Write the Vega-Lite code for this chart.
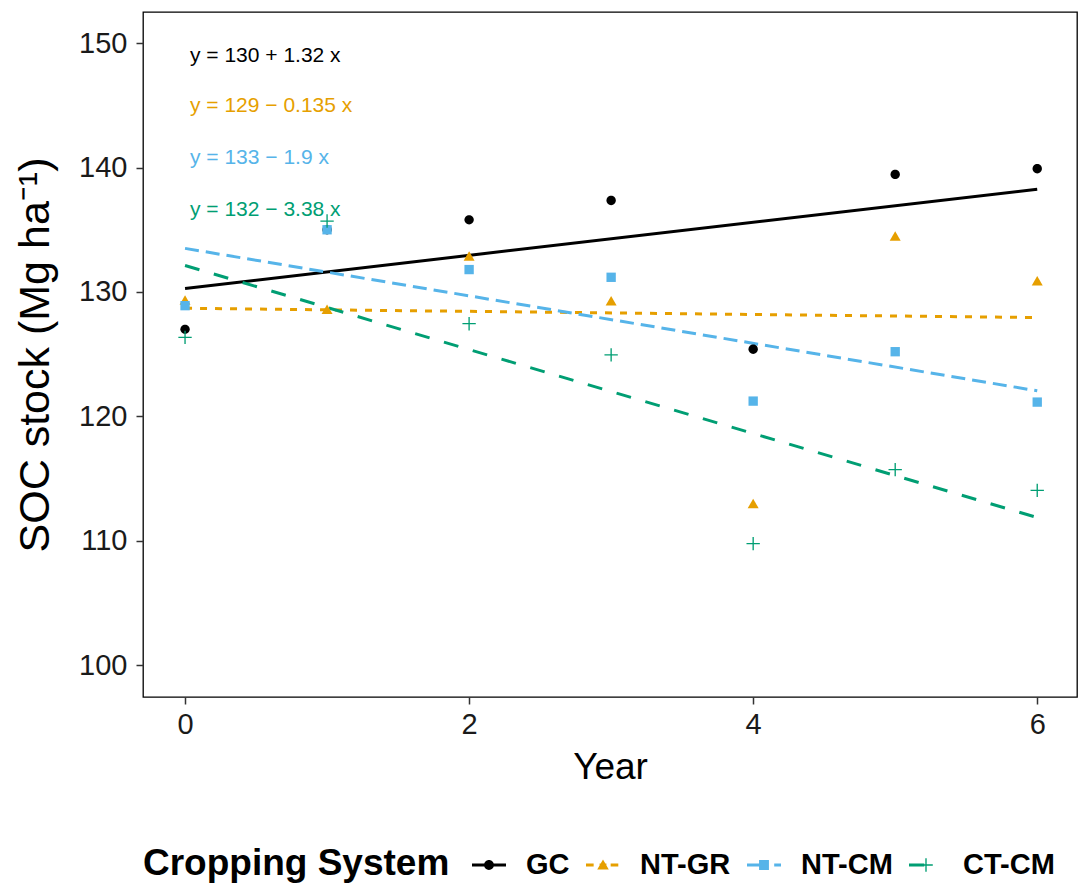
{
  "$schema": "https://vega.github.io/schema/vega-lite/v6.json",
  "width": 934,
  "height": 685,
  "autosize": "none",
  "padding": {"left": 143, "top": 12, "right": 6, "bottom": 188},
  "background": "white",
  "datasets": {
    "soc": [
      {"year": 0, "soc": 127.0, "system": "GC"},
      {"year": 1, "soc": 135.0, "system": "GC"},
      {"year": 2, "soc": 135.8, "system": "GC"},
      {"year": 3, "soc": 137.35, "system": "GC"},
      {"year": 4, "soc": 125.4, "system": "GC"},
      {"year": 5, "soc": 139.45, "system": "GC"},
      {"year": 6, "soc": 139.9, "system": "GC"},
      {"year": 0, "soc": 129.3, "system": "NT-GR"},
      {"year": 1, "soc": 128.57, "system": "NT-GR"},
      {"year": 2, "soc": 132.85, "system": "NT-GR"},
      {"year": 3, "soc": 129.25, "system": "NT-GR"},
      {"year": 4, "soc": 112.95, "system": "NT-GR"},
      {"year": 5, "soc": 134.45, "system": "NT-GR"},
      {"year": 6, "soc": 130.85, "system": "NT-GR"},
      {"year": 0, "soc": 128.9, "system": "NT-CM"},
      {"year": 1, "soc": 135.0, "system": "NT-CM"},
      {"year": 2, "soc": 131.8, "system": "NT-CM"},
      {"year": 3, "soc": 131.18, "system": "NT-CM"},
      {"year": 4, "soc": 121.23, "system": "NT-CM"},
      {"year": 5, "soc": 125.2, "system": "NT-CM"},
      {"year": 6, "soc": 121.15, "system": "NT-CM"},
      {"year": 0, "soc": 126.35, "system": "CT-CM"},
      {"year": 1, "soc": 135.7, "system": "CT-CM"},
      {"year": 2, "soc": 127.45, "system": "CT-CM"},
      {"year": 3, "soc": 124.95, "system": "CT-CM"},
      {"year": 4, "soc": 109.77, "system": "CT-CM"},
      {"year": 5, "soc": 115.72, "system": "CT-CM"},
      {"year": 6, "soc": 114.06, "system": "CT-CM"}
    ]
  },
  "layer": [
    {
      "data": {"name": "soc"},
      "transform": [{"filter": "datum.year > 100"}],
      "mark": {"type": "point", "filled": true, "size": 1156, "opacity": 1, "strokeWidth": 0},
      "encoding": {
        "x": {"field": "year", "type": "quantitative", "scale": {"domain": [-0.296, 6.28], "nice": false, "zero": false},
              "axis": {"values": [0, 2, 4, 6], "format": "d", "title": "Year", "labelPadding": 6, "titlePadding": 10}},
        "y": {"field": "soc", "type": "quantitative", "scale": {"domain": [97.45, 152.5], "nice": false, "zero": false},
              "axis": {"values": [100, 110, 120, 130, 140, 150], "title": "SOC stock (Mg ha⁻¹)", "titleFontSize": 43, "labelPadding": 9, "titlePadding": 21}},
        "color": {"field": "system", "type": "nominal", "title": "Cropping System",
                  "scale": {"domain": ["GC", "NT-GR", "NT-CM", "CT-CM"], "range": ["#000000", "#E69F00", "#56B4E9", "#009E73"]},
                  "legend": {"orient": "none", "legendX": 0, "legendY": 836, "direction": "horizontal",
                             "titleOrient": "left", "titleAnchor": "middle", "titleBaseline": "middle", "titleLimit": 600,
                             "symbolSize": 1156, "symbolStrokeWidth": 0, "labelOffset": 20, "columnPadding": 16, "titlePadding": 22}},
        "shape": {"field": "system", "type": "nominal", "title": "Cropping System",
                  "scale": {"domain": ["GC", "NT-GR", "NT-CM", "CT-CM"],
                            "range": [
                              "M-1,-0.09H1V0.09H-1Z M0,-0.29A0.29,0.29 0 1 1 0,0.29A0.29,0.29 0 1 1 0,-0.29Z",
                              "M-1,-0.09H-0.55V0.09H-1Z M-0.2,-0.09H0.2V0.09H-0.2Z M0.45,-0.09H0.9V0.09H0.45Z M0,-0.32L0.34,0.26L-0.34,0.26Z",
                              "M-1,-0.09H-0.2V0.09H-1Z M0.6,-0.09H1V0.09H0.6Z M-0.29,-0.29H0.29V0.29H-0.29Z",
                              "M-1,-0.09H-0.1V0.09H-1Z M-0.4,-0.04H0.4V0.04H-0.4Z M-0.04,-0.4H0.04V0.4H-0.04Z"
                            ]},
                  "legend": {"orient": "none", "legendX": 0, "legendY": 836, "direction": "horizontal",
                             "titleOrient": "left", "titleAnchor": "middle", "titleBaseline": "middle", "titleLimit": 600,
                             "symbolSize": 1156, "symbolStrokeWidth": 0, "labelOffset": 20, "columnPadding": 16, "titlePadding": 22}}
      }
    },
    {
      "data": {"name": "soc"},
      "transform": [{"filter": "datum.system == 'GC'"}, {"regression": "soc", "on": "year", "extent": [0, 6]}],
      "mark": {"type": "line", "strokeWidth": 3, "strokeCap": "butt", "color": "#000000"},
      "encoding": {"x": {"field": "year", "type": "quantitative"}, "y": {"field": "soc", "type": "quantitative"}}
    },
    {
      "data": {"name": "soc"},
      "transform": [{"filter": "datum.system == 'NT-GR'"}, {"regression": "soc", "on": "year", "extent": [0, 6]}],
      "mark": {"type": "line", "strokeWidth": 3, "strokeCap": "butt", "color": "#E69F00", "strokeDash": [7, 8]},
      "encoding": {"x": {"field": "year", "type": "quantitative"}, "y": {"field": "soc", "type": "quantitative"}}
    },
    {
      "data": {"name": "soc"},
      "transform": [{"filter": "datum.system == 'NT-CM'"}, {"regression": "soc", "on": "year", "extent": [0, 6]}],
      "mark": {"type": "line", "strokeWidth": 3, "strokeCap": "butt", "color": "#56B4E9", "strokeDash": [14, 7]},
      "encoding": {"x": {"field": "year", "type": "quantitative"}, "y": {"field": "soc", "type": "quantitative"}}
    },
    {
      "data": {"name": "soc"},
      "transform": [{"filter": "datum.system == 'CT-CM'"}, {"regression": "soc", "on": "year", "extent": [0, 6]}],
      "mark": {"type": "line", "strokeWidth": 3, "strokeCap": "butt", "color": "#009E73", "strokeDash": [15, 15]},
      "encoding": {"x": {"field": "year", "type": "quantitative"}, "y": {"field": "soc", "type": "quantitative"}}
    },
    {
      "data": {"name": "soc"},
      "transform": [{"filter": "datum.system == 'GC'"}],
      "mark": {"type": "point", "filled": true, "size": 220, "opacity": 1, "strokeWidth": 0, "color": "#000000",
               "shape": "M0,-0.63A0.63,0.63 0 1 1 0,0.63A0.63,0.63 0 1 1 0,-0.63Z"},
      "encoding": {"x": {"field": "year", "type": "quantitative"}, "y": {"field": "soc", "type": "quantitative"}}
    },
    {
      "data": {"name": "soc"},
      "transform": [{"filter": "datum.system == 'NT-GR'"}],
      "mark": {"type": "point", "filled": true, "size": 220, "opacity": 1, "strokeWidth": 0, "color": "#E69F00",
               "shape": "M0,-0.72L0.74,0.56L-0.74,0.56Z"},
      "encoding": {"x": {"field": "year", "type": "quantitative"}, "y": {"field": "soc", "type": "quantitative"}}
    },
    {
      "data": {"name": "soc"},
      "transform": [{"filter": "datum.system == 'NT-CM'"}],
      "mark": {"type": "point", "filled": true, "size": 220, "opacity": 1, "strokeWidth": 0, "color": "#56B4E9",
               "shape": "M-0.63,-0.63H0.63V0.63H-0.63Z"},
      "encoding": {"x": {"field": "year", "type": "quantitative"}, "y": {"field": "soc", "type": "quantitative"}}
    },
    {
      "data": {"name": "soc"},
      "transform": [{"filter": "datum.system == 'CT-CM'"}],
      "mark": {"type": "point", "filled": true, "size": 220, "opacity": 1, "strokeWidth": 0, "color": "#009E73",
               "shape": "M-0.9,-0.09H0.9V0.09H-0.9Z M-0.09,-0.9H0.09V0.9H-0.09Z"},
      "encoding": {"x": {"field": "year", "type": "quantitative"}, "y": {"field": "soc", "type": "quantitative"}}
    },
    {
      "data": {"values": [{}]},
      "mark": {"type": "text", "align": "left", "baseline": "middle", "font": "Liberation Sans", "fontSize": 21, "color": "#000000"},
      "encoding": {"x": {"datum": 0.035}, "y": {"datum": 149.0}, "text": {"value": "y = 130 + 1.32 x"}}
    },
    {
      "data": {"values": [{}]},
      "mark": {"type": "text", "align": "left", "baseline": "middle", "font": "Liberation Sans", "fontSize": 21, "color": "#E69F00"},
      "encoding": {"x": {"datum": 0.035}, "y": {"datum": 144.95}, "text": {"value": "y = 129 − 0.135 x"}}
    },
    {
      "data": {"values": [{}]},
      "mark": {"type": "text", "align": "left", "baseline": "middle", "font": "Liberation Sans", "fontSize": 21, "color": "#56B4E9"},
      "encoding": {"x": {"datum": 0.035}, "y": {"datum": 140.8}, "text": {"value": "y = 133 − 1.9 x"}}
    },
    {
      "data": {"values": [{}]},
      "mark": {"type": "text", "align": "left", "baseline": "middle", "font": "Liberation Sans", "fontSize": 21, "color": "#009E73"},
      "encoding": {"x": {"datum": 0.035}, "y": {"datum": 136.6}, "text": {"value": "y = 132 − 3.38 x"}}
    }
  ],
  "config": {
    "font": "Liberation Sans",
    "view": {"stroke": "#000000", "strokeWidth": 1.3},
    "axis": {"domain": false, "grid": false, "ticks": true, "tickColor": "#333333", "tickSize": 7, "tickWidth": 1.5,
             "labelFont": "Liberation Sans", "labelFontSize": 29, "labelColor": "#1a1a1a",
             "titleFont": "Liberation Sans", "titleFontSize": 37, "titleFontWeight": "normal", "titleColor": "#000000"},
    "legend": {"labelFont": "Liberation Sans", "labelFontSize": 29, "labelFontWeight": "bold", "labelColor": "#000000",
               "titleFont": "Liberation Sans", "titleFontSize": 37, "titleFontWeight": "bold", "titleColor": "#000000"}
  }
}
